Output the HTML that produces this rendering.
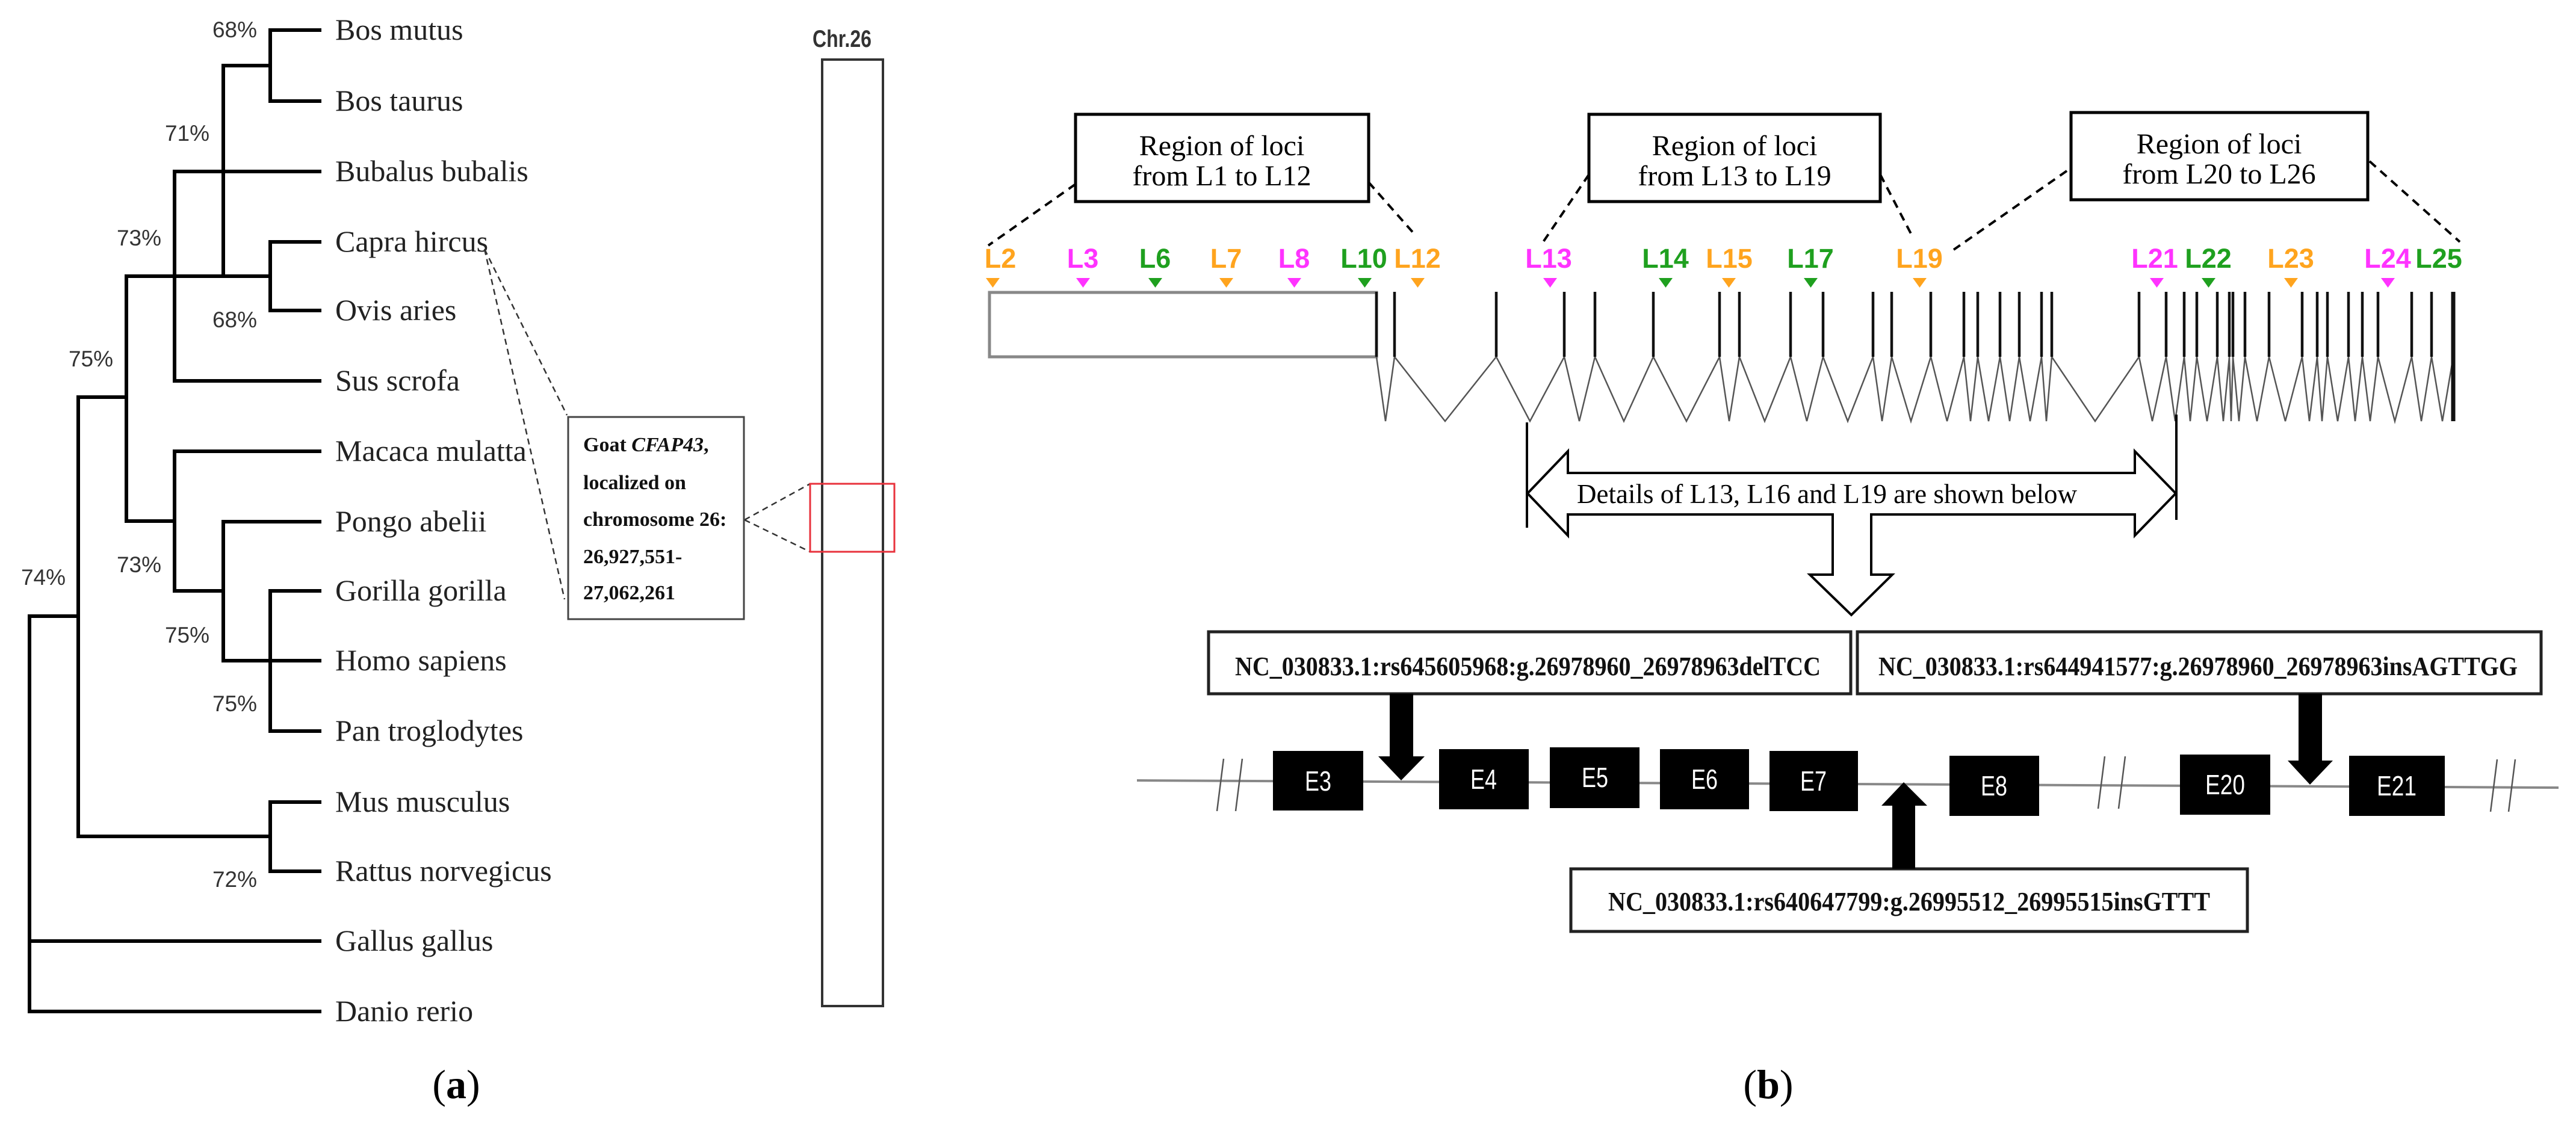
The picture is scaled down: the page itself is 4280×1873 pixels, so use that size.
<!DOCTYPE html>
<html><head><meta charset="utf-8"><style>
html,body{margin:0;padding:0;background:#fff;}
svg{display:block;}
</style></head><body>
<svg width="4280" height="1873" viewBox="0 0 4280 1873" xmlns="http://www.w3.org/2000/svg">
<rect width="4280" height="1873" fill="#fff"/>
<!-- ===== (a) tree ===== -->
<g stroke="#000" stroke-width="6" fill="none" stroke-linecap="square">
<path d="M449,50 V168 M449,50 H531 M449,168 H531"/>
<path d="M449,402 V516 M449,402 H531 M449,516 H531"/>
<path d="M371,109 V459 M371,109 H449 M371,459 H449"/>
<path d="M290,285 V633 M290,285 H531 M290,633 H531 M290,459 H371"/>
<path d="M449,982 V1215 M449,982 H531 M449,1098 H531 M449,1215 H531"/>
<path d="M371,867 V1098 M371,867 H531 M371,1098 H449"/>
<path d="M290,750 V982 M290,750 H531 M290,982 H371"/>
<path d="M210,459 V866 M210,459 H290 M210,866 H290"/>
<path d="M449,1333 V1448 M449,1333 H531 M449,1448 H531"/>
<path d="M130,660 V1390 M130,660 H210 M130,1390 H449"/>
<path d="M49,1024 V1681 M49,1024 H130 M49,1564 H531 M49,1681 H531"/>
</g>
<g font-family="Liberation Serif, serif" font-size="50" fill="#222">
<text x="557" y="66">Bos mutus</text>
<text x="557" y="184">Bos taurus</text>
<text x="557" y="301">Bubalus bubalis</text>
<text x="557" y="418">Capra hircus</text>
<text x="557" y="532">Ovis aries</text>
<text x="557" y="649">Sus scrofa</text>
<text x="557" y="766">Macaca mulatta</text>
<text x="557" y="883">Pongo abelii</text>
<text x="557" y="998">Gorilla gorilla</text>
<text x="557" y="1114">Homo sapiens</text>
<text x="557" y="1231">Pan troglodytes</text>
<text x="557" y="1349">Mus musculus</text>
<text x="557" y="1464">Rattus norvegicus</text>
<text x="557" y="1580">Gallus gallus</text>
<text x="557" y="1697">Danio rerio</text>
</g>
<g font-family="Liberation Sans, sans-serif" font-size="37" fill="#333" text-anchor="middle">
<text x="390" y="62">68%</text>
<text x="311" y="234">71%</text>
<text x="231" y="408">73%</text>
<text x="390" y="544">68%</text>
<text x="151" y="609">75%</text>
<text x="72" y="972">74%</text>
<text x="231" y="951">73%</text>
<text x="311" y="1068">75%</text>
<text x="390" y="1182">75%</text>
<text x="390" y="1474">72%</text>
</g>
<g stroke="#333" stroke-width="2.5" stroke-dasharray="10,7" fill="none">
<path d="M805,414 L942,690"/>
<path d="M805,414 L938,996"/>
<path d="M1237,864 L1346,804"/>
<path d="M1237,864 L1346,917"/>
</g>
<rect x="944" y="693" width="292" height="336" fill="#fff" stroke="#444" stroke-width="3"/>
<g font-family="Liberation Serif, serif" font-size="34" font-weight="bold" fill="#111">
<text x="969" y="750">Goat <tspan font-style="italic">CFAP43</tspan>,</text>
<text x="969" y="813">localized on</text>
<text x="969" y="874">chromosome 26:</text>
<text x="969" y="936">26,927,551-</text>
<text x="969" y="996">27,062,261</text>
</g>
<text x="1350" y="78" font-family="Liberation Sans, sans-serif" font-weight="bold" font-size="40" fill="#333" textLength="98" lengthAdjust="spacingAndGlyphs">Chr.26</text>
<rect x="1366" y="99" width="101" height="1573" fill="none" stroke="#333" stroke-width="4"/>
<rect x="1346" y="804" width="140" height="113" fill="none" stroke="#e8323c" stroke-width="3"/>
<text x="758" y="1825" font-family="Liberation Serif, serif" font-size="68" text-anchor="middle" fill="#000">(<tspan font-weight="bold">a</tspan>)</text>

<!-- ===== (b) ===== -->
<g fill="#fff" stroke="#000" stroke-width="5">
<rect x="1787" y="190" width="487" height="145"/>
<rect x="2640" y="190" width="484" height="145"/>
<rect x="3441" y="187" width="493" height="145"/>
</g>
<g font-family="Liberation Serif, serif" font-size="48" fill="#000" text-anchor="middle">
<text x="2030" y="258">Region of loci</text>
<text x="2030" y="308">from L1 to L12</text>
<text x="2882" y="258">Region of loci</text>
<text x="2882" y="308">from L13 to L19</text>
<text x="3687" y="255">Region of loci</text>
<text x="3687" y="305">from L20 to L26</text>
</g>
<g stroke="#000" stroke-width="4" stroke-dasharray="14,10" fill="none">
<path d="M1787,306 L1642,408"/>
<path d="M2274,303 L2350,389"/>
<path d="M2640,290 L2562,405"/>
<path d="M3124,290 L3179,396"/>
<path d="M3434,284 L3246,415"/>
<path d="M3937,268 L4087,402"/>
</g>
<g font-family="Liberation Sans, sans-serif" font-weight="bold" font-size="45" text-anchor="middle">
<text x="1662" y="445" fill="#FFA41E">L2</text>
<text x="1799" y="445" fill="#FF33FF">L3</text>
<text x="1919" y="445" fill="#1FA01F">L6</text>
<text x="2037" y="445" fill="#FFA41E">L7</text>
<text x="2150" y="445" fill="#FF33FF">L8</text>
<text x="2266" y="445" fill="#1FA01F">L10</text>
<text x="2355" y="445" fill="#FFA41E">L12</text>
<text x="2573" y="445" fill="#FF33FF">L13</text>
<text x="2767" y="445" fill="#1FA01F">L14</text>
<text x="2873" y="445" fill="#FFA41E">L15</text>
<text x="3008" y="445" fill="#1FA01F">L17</text>
<text x="3189" y="445" fill="#FFA41E">L19</text>
<text x="3580" y="445" fill="#FF33FF">L21</text>
<text x="3669" y="445" fill="#1FA01F">L22</text>
<text x="3806" y="445" fill="#FFA41E">L23</text>
<text x="3967" y="445" fill="#FF33FF">L24</text>
<text x="4052" y="445" fill="#1FA01F">L25</text>
</g>
<g>
<path d="M1638,462 h23 l-11.5,16 z" fill="#FFA41E"/>
<path d="M1788,462 h23 l-11.5,16 z" fill="#FF33FF"/>
<path d="M1908,462 h23 l-11.5,16 z" fill="#1FA01F"/>
<path d="M2026,462 h23 l-11.5,16 z" fill="#FFA41E"/>
<path d="M2139,462 h23 l-11.5,16 z" fill="#FF33FF"/>
<path d="M2256,462 h23 l-11.5,16 z" fill="#1FA01F"/>
<path d="M2344,462 h23 l-11.5,16 z" fill="#FFA41E"/>
<path d="M2564,462 h23 l-11.5,16 z" fill="#FF33FF"/>
<path d="M2756,462 h23 l-11.5,16 z" fill="#1FA01F"/>
<path d="M2861,462 h23 l-11.5,16 z" fill="#FFA41E"/>
<path d="M2997,462 h23 l-11.5,16 z" fill="#1FA01F"/>
<path d="M3178,462 h23 l-11.5,16 z" fill="#FFA41E"/>
<path d="M3572,462 h23 l-11.5,16 z" fill="#FF33FF"/>
<path d="M3658,462 h23 l-11.5,16 z" fill="#1FA01F"/>
<path d="M3795,462 h23 l-11.5,16 z" fill="#FFA41E"/>
<path d="M3956,462 h23 l-11.5,16 z" fill="#FF33FF"/>
</g>
<rect x="1644" y="486" width="643" height="107" fill="#fff" stroke="#888" stroke-width="5"/>
<g stroke="#555" stroke-width="2.5" fill="none">
<polyline points="2287,593 2302,700 2317,593 2401,700 2486,593 2542,700 2599,593 2624,700 2650,593 2698,700 2747,593 2802,700 2857,593 2873,700 2890,593 2932,700 2975,593 3002,700 3029,593 3070,700 3112,593 3127,700 3143,593 3175,700 3208,593 3235,700 3263,593 3274,700 3286,593 3304,700 3323,593 3339,700 3355,593 3373,700 3392,593 3400,700 3409,593 3481,700 3554,593 3576,700 3599,593 3614,700 3629,593 3639,700 3650,593 3667,700 3684,593 3694,700 3704,593 3707,700 3710,593 3720,700 3730,593 3750,700 3770,593 3797,700 3825,593 3837,700 3850,593 3858,700 3867,593 3884,700 3902,593 3913,700 3925,593 3938,700 3951,593 3979,700 4007,593 4023,700 4040,593 4058,700 4076,593"/>
</g>
<g stroke="#111" stroke-width="4.5" fill="none">
<path d="M2287,485V593 M2317,485V593 M2486,485V593 M2599,485V593 M2650,485V593 M2747,485V593 M2857,485V593 M2890,485V593 M2975,485V593 M3029,485V593 M3112,485V593 M3143,485V593 M3208,485V593 M3263,485V593 M3286,485V593 M3323,485V593 M3355,485V593 M3392,485V593 M3409,485V593 M3554,485V593 M3599,485V593 M3629,485V593 M3650,485V593 M3684,485V593 M3704,485V593 M3710,485V593 M3730,485V593 M3770,485V593 M3825,485V593 M3850,485V593 M3867,485V593 M3902,485V593 M3925,485V593 M3951,485V593 M4007,485V593 M4040,485V593"/>
<path d="M4076,485V700" stroke-width="7"/>
</g>
<g stroke="#000" stroke-width="4">
<path d="M2537,702 V877 M3616,689 V864" fill="none"/>
<polygon fill="#fff" points="2538,820 2605,750 2605,786 3547,786 3547,750 3615,820 3547,890 3547,855 3109,855 3109,955 3144,955 3076,1022 3007,955 3045,955 3045,855 2605,855 2605,890"/>
</g>
<text x="2620" y="836" font-family="Liberation Serif, serif" font-size="45" fill="#000">Details of L13, L16 and L19 are shown below</text>

<path d="M1889,1297 L4251,1309" stroke="#888" stroke-width="4" fill="none"/>
<g stroke="#555" stroke-width="2.5" fill="none">
<path d="M2033,1261 L2022,1348 M2064,1261 L2053,1348"/>
<path d="M3497,1257 L3486,1344 M3531,1257 L3520,1344"/>
<path d="M4149,1262 L4138,1349 M4179,1262 L4168,1349"/>
</g>
<g fill="#000">
<rect x="2115" y="1248" width="150" height="99"/>
<rect x="2391" y="1245" width="149" height="100"/>
<rect x="2575" y="1242" width="149" height="101"/>
<rect x="2758" y="1245" width="148" height="100"/>
<rect x="2940" y="1248" width="147" height="100"/>
<rect x="3239" y="1256" width="149" height="100"/>
<rect x="3622" y="1254" width="150" height="100"/>
<rect x="3903" y="1256" width="159" height="100"/>
</g>
<g font-family="Liberation Sans, sans-serif" font-size="46" fill="#fff" text-anchor="middle">
<text x="2190" y="1314" textLength="44" lengthAdjust="spacingAndGlyphs">E3</text>
<text x="2465" y="1311" textLength="44" lengthAdjust="spacingAndGlyphs">E4</text>
<text x="2650" y="1308" textLength="44" lengthAdjust="spacingAndGlyphs">E5</text>
<text x="2832" y="1311" textLength="44" lengthAdjust="spacingAndGlyphs">E6</text>
<text x="3013" y="1314" textLength="44" lengthAdjust="spacingAndGlyphs">E7</text>
<text x="3313" y="1322" textLength="44" lengthAdjust="spacingAndGlyphs">E8</text>
<text x="3697" y="1320" textLength="66" lengthAdjust="spacingAndGlyphs">E20</text>
<text x="3982" y="1322" textLength="66" lengthAdjust="spacingAndGlyphs">E21</text>
</g>
<g fill="#fff" stroke="#222" stroke-width="5">
<rect x="2008" y="1050" width="1067" height="103"/>
<rect x="3086" y="1050" width="1136" height="103"/>
<rect x="2610" y="1444" width="1124" height="104"/>
</g>
<g font-family="Liberation Serif, serif" font-size="44" font-weight="bold" fill="#111">
<text x="2052" y="1122" textLength="973" lengthAdjust="spacingAndGlyphs">NC_030833.1:rs645605968:g.26978960_26978963delTCC</text>
<text x="3121" y="1122" textLength="1062" lengthAdjust="spacingAndGlyphs">NC_030833.1:rs644941577:g.26978960_26978963insAGTTGG</text>
<text x="2672" y="1513" textLength="1000" lengthAdjust="spacingAndGlyphs">NC_030833.1:rs640647799:g.26995512_26995515insGTTT</text>
</g>
<g fill="#000">
<polygon points="2309,1153 2348,1153 2348,1257 2367,1257 2328,1297 2290,1257 2309,1257"/>
<polygon points="3819,1153 3858,1153 3858,1264 3876,1264 3838,1304 3801,1264 3819,1264"/>
<polygon points="3144,1444 3182,1444 3182,1339 3202,1339 3163,1300 3126,1339 3144,1339"/>
</g>
<text x="2938" y="1825" font-family="Liberation Serif, serif" font-size="68" text-anchor="middle" fill="#000">(<tspan font-weight="bold">b</tspan>)</text>
</svg>
</body></html>
